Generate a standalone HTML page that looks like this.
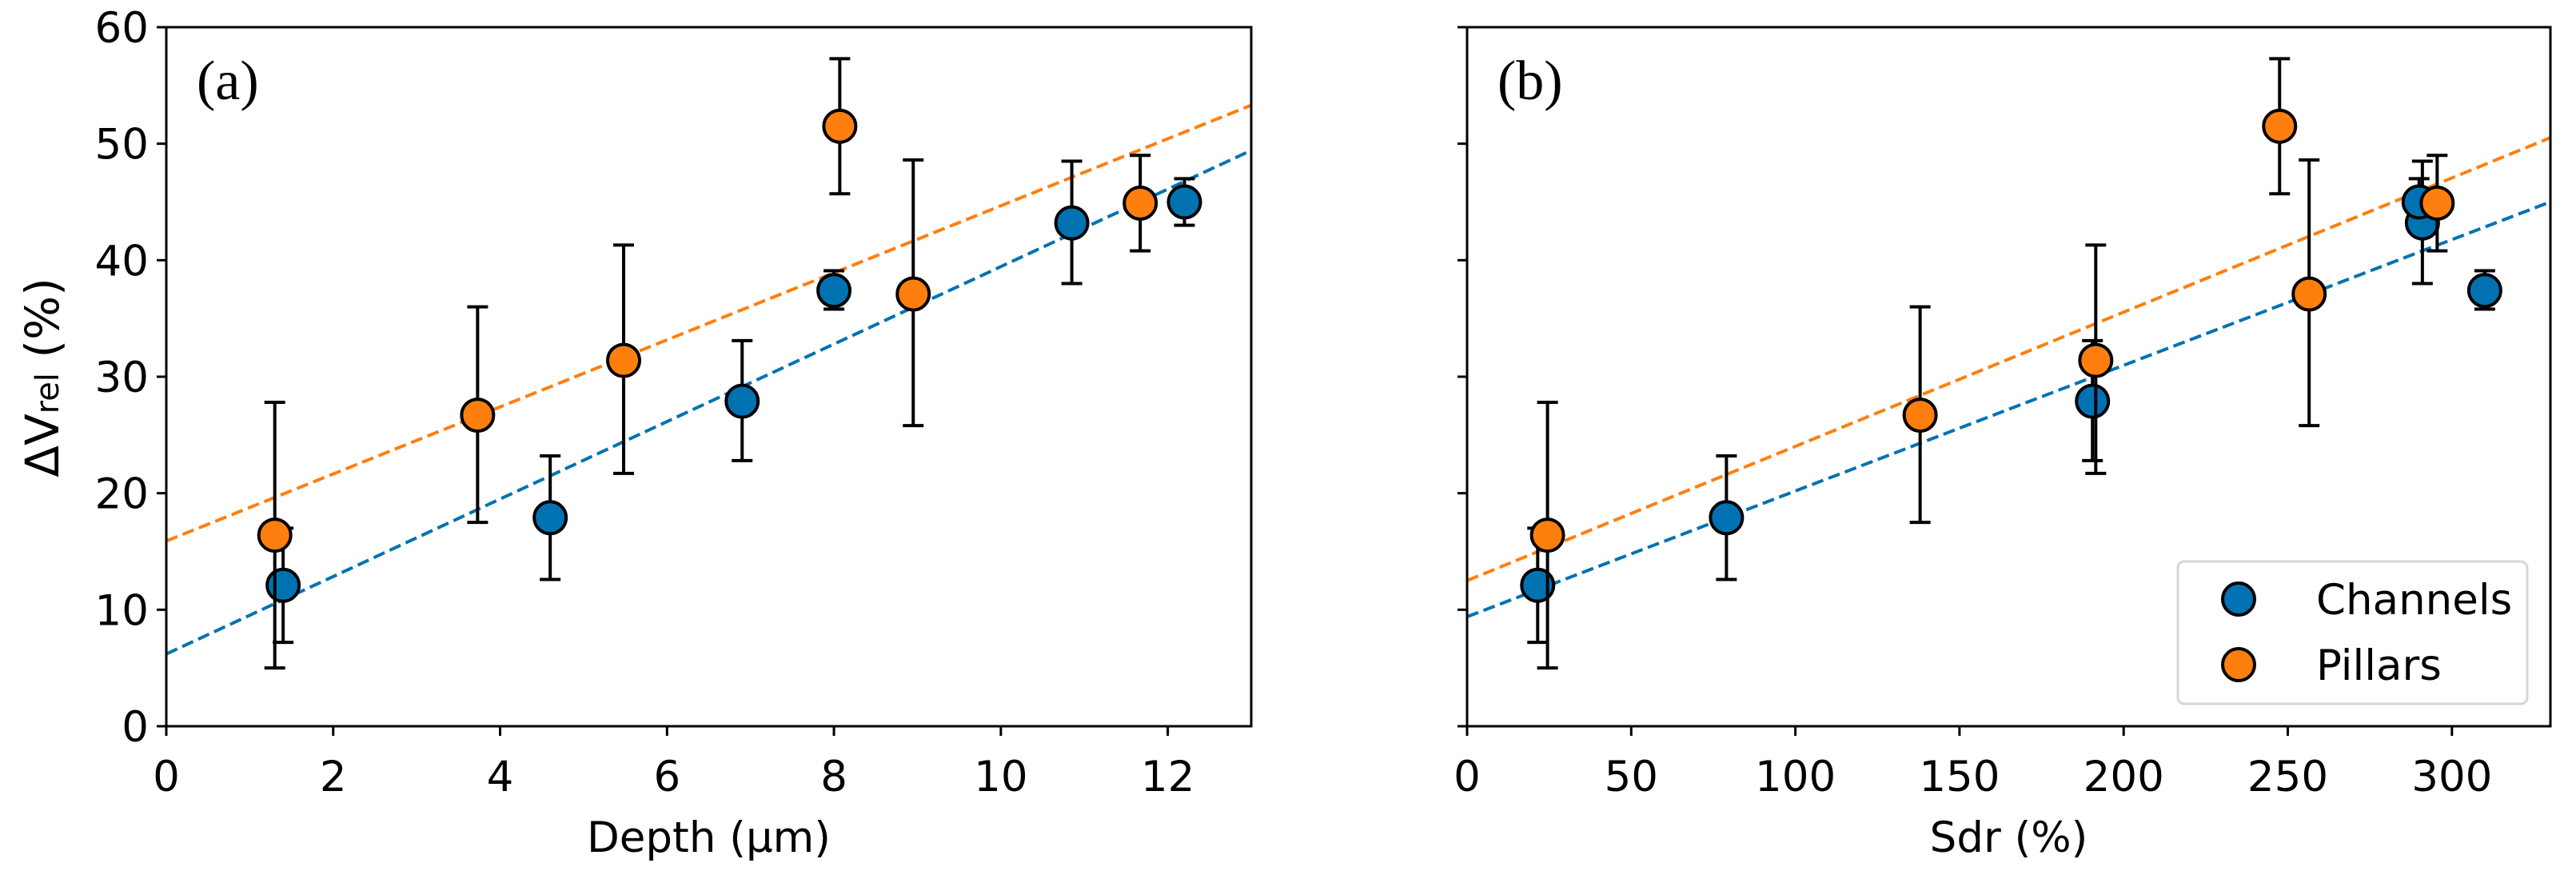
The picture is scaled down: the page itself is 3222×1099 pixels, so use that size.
<!DOCTYPE html>
<html><head><meta charset="utf-8"><style>
html,body{margin:0;padding:0;background:#fff;}
svg{display:block;font-family:"DejaVu Sans","Liberation Sans",sans-serif;}
</style></head><body>
<svg id="fig" width="3222" height="1099" viewBox="0 0 3222 1099" xmlns="http://www.w3.org/2000/svg"></svg>
<script>
// Panel (a) data: depth
const depthChannels = [1.4, 4.6, 6.9, 8.0, 10.85, 12.2];
const valChannels = [12.1, 17.9, 27.9, 37.4, 43.2, 45.0];
const errLoChannels = [7.2, 12.6, 22.8, 35.8, 38.0, 43.0];
const errHiChannels = [17.0, 23.2, 33.1, 39.1, 48.5, 47.0];
const depthPillars = [1.3, 3.73, 5.48, 8.07, 8.95, 11.67];
const valPillars = [16.4, 26.7, 31.4, 51.5, 37.1, 44.9];
const errLoPillars = [5.0, 17.5, 21.7, 45.7, 25.8, 40.8];
const errHiPillars = [27.8, 36.0, 41.3, 57.3, 48.6, 49.0];
// Panel (b) data: Sdr
const sdrChannels = [21.5, 79, 190.5, 310, 291, 290];
const sdrPillars = [24.5, 138, 191.5, 247.5, 256.5, 295.5];
// fit lines [intercept, slope]
const fitA_channels = [6.2, 3.325];
const fitA_pillars = [15.9, 2.877];
const fitB_channels = [9.4, 0.1079];
const fitB_pillars = [12.5, 0.1152];
const xTicksA = [0, 2, 4, 6, 8, 10, 12];
const xTicksB = [0, 50, 100, 150, 200, 250, 300];
const yTicks = [0, 10, 20, 30, 40, 50, 60];

const NS = "http://www.w3.org/2000/svg";
const svg = document.getElementById('fig');
const BLUE = "#0072b2", ORANGE = "#ff7f0e";
function mk(tag, attrs, parent){const e=document.createElementNS(NS,tag);for(const k in attrs)e.setAttribute(k,attrs[k]);(parent||svg).appendChild(e);return e;}

const yTop = 34, yBot = 908;
const ys = v => yBot + (yTop - yBot) * v / 60;

function panel(name, x0, x1, xmax, xTicks, label, letter, xsC, xsP, fitC, fitP, showY){
  const g = mk('g', {});
  
  
  const xs = v => x0 + (x1 - x0) * v / xmax;
  const clipId = name + '-clip';
  const cp = mk('clipPath', {id: clipId}, g);
  mk('rect', {x: x0, y: yTop, width: x1 - x0, height: yBot - yTop}, cp);
  const plot = mk('g', {'clip-path': 'url(#' + clipId + ')'}, g);
  [[fitC, BLUE, 'channels-fit-line'], [fitP, ORANGE, 'pillars-fit-line']].forEach(f => {
    const l = mk('line', {x1: xs(0), y1: ys(f[0][0]), x2: xs(xmax), y2: ys(f[0][0] + f[0][1] * xmax), stroke: f[1], 'stroke-width': 4, 'stroke-dasharray': '15,7'}, plot);
    
    
  });
  function series(xv, yv, lo, hi, color, sname){
    for (let i = 0; i < xv.length; i++){
      const cx = xs(xv[i]);
      const eb = mk('g', {stroke: '#000', 'stroke-width': 4}, plot);
      
      
      mk('line', {x1: cx, y1: ys(lo[i]), x2: cx, y2: ys(hi[i])}, eb);
      mk('line', {x1: cx - 13, y1: ys(lo[i]), x2: cx + 13, y2: ys(lo[i])}, eb);
      mk('line', {x1: cx - 13, y1: ys(hi[i]), x2: cx + 13, y2: ys(hi[i])}, eb);
    }
    for (let i = 0; i < xv.length; i++){
      const c = mk('circle', {cx: xs(xv[i]), cy: ys(yv[i]), r: 20, fill: color, stroke: '#000', 'stroke-width': 4}, plot);
      
      
    }
  }
  series(xsC, valChannels, errLoChannels, errHiChannels, BLUE, 'channels');
  series(xsP, valPillars, errLoPillars, errHiPillars, ORANGE, 'pillars');
  const fr = mk('rect', {x: x0, y: yTop, width: x1 - x0, height: yBot - yTop, fill: 'none', stroke: '#000', 'stroke-width': 3}, g);
  
  
  xTicks.forEach(t => {
    mk('line', {x1: xs(t), y1: yBot, x2: xs(t), y2: yBot + 12, stroke: '#000', 'stroke-width': 3}, g);
    const tx = mk('text', {x: xs(t), y: yBot + 81, 'font-size': 53, 'text-anchor': 'middle'}, g);
    tx.textContent = t;
    
    
  });
  yTicks.forEach(t => {
    mk('line', {x1: x0 - 12, y1: ys(t), x2: x0, y2: ys(t), stroke: '#000', 'stroke-width': 3}, g);
    if (showY){
      const tx = mk('text', {x: x0 - 22, y: ys(t) + 19, 'font-size': 53, 'text-anchor': 'end'}, g);
      tx.textContent = t;
      
      
    }
  });
  const xl = mk('text', {x: (x0 + x1) / 2, y: 1065, 'font-size': 53, 'text-anchor': 'middle'}, g);
  xl.textContent = label;
  
  
  const pl = mk('text', {x: x0 + 38, y: 124, 'font-size': 70, 'font-family': 'Liberation Serif, serif'}, g);
  pl.textContent = letter;
  
  
  return g;
}

panel('panel-a-depth', 208, 1565, 13, xTicksA, 'Depth (µm)', '(a)', depthChannels, depthPillars, fitA_channels, fitA_pillars, true);
panel('panel-b-sdr', 1835, 3190, 330, xTicksB, 'Sdr (%)', '(b)', sdrChannels, sdrPillars, fitB_channels, fitB_pillars, false);

const yl = mk('text', {x: 0, y: 0, 'font-size': 58, 'text-anchor': 'middle', transform: 'translate(73,472) rotate(-90)'});


yl.innerHTML = 'ΔV<tspan font-size="40" dy="0">rel</tspan> (%)';

const lg = mk('g', {});


mk('rect', {x: 2724, y: 702, width: 437, height: 178, rx: 8, fill: '#fff', 'fill-opacity': 0.8, stroke: '#d6d6d6', 'stroke-width': 3}, lg);
[[BLUE, 'Channels', 749], [ORANGE, 'Pillars', 831]].forEach(e => {
  const en = mk('g', {}, lg);
  
  
  mk('circle', {cx: 2800, cy: e[2], r: 20, fill: e[0], stroke: '#000', 'stroke-width': 4}, en);
  const t = mk('text', {x: 2897, y: e[2] + 19, 'font-size': 53}, en);
  t.textContent = e[1];
});
</script>
</body></html>
